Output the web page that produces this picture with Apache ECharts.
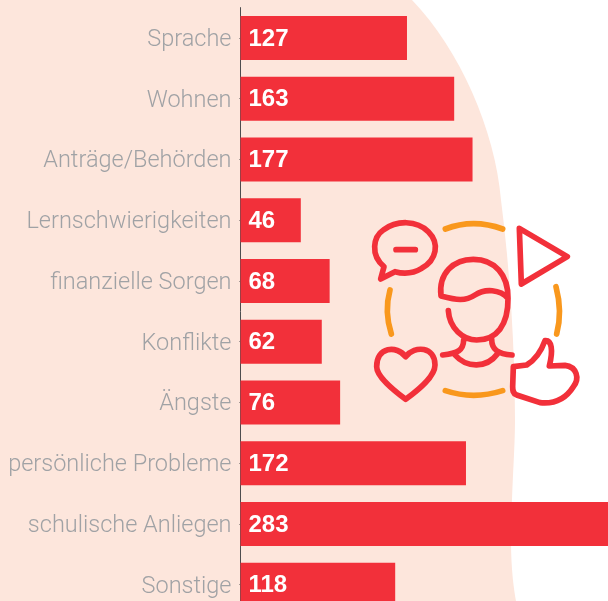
<!DOCTYPE html>
<html>
<head>
<meta charset="utf-8">
<style>
  html, body { margin: 0; padding: 0; background: #fff; overflow: hidden; }
  /* taller and wider than the window: the last bars run off the edge in the original */
  #chart { width: 640px; height: 640px; }
</style>
<script src="https://cdn.jsdelivr.net/npm/echarts@6/dist/echarts.min.js"></script>
</head>
<body>
<div id="chart"></div>
<script>
const categories = ['Sprache', 'Wohnen', 'Anträge/Behörden', 'Lernschwierigkeiten', 'finanzielle Sorgen', 'Konflikte', 'Ängste', 'persönliche Probleme', 'schulische Anliegen', 'Sonstige'];
const values = [127, 163, 177, 46, 68, 62, 76, 172, 283, 118];

const RED = '#f2303a';
const ORANGE = '#f9981d';

// Icon outlines, drawn in a 3x space and scaled down in the group
const redIcons = [
  'M62 237 L72 200 C30 165 40 110 70 90 C110 60 170 60 205 95 C240 130 230 180 185 205 C160 220 130 222 105 215 Z',
  'M108 149 L166 149',
  'M478 85 L622 170 L484 252 Z',
  'M243 288 C235 220 280 178 340 178 C405 178 445 225 444 295 C420 268 375 265 345 285 C315 305 290 300 243 288 Z',
  'M265 332 C268 385 310 420 350 420 C410 420 445 375 444 295',
  'M311 420 C310 450 295 460 248 465',
  'M395 418 C395 450 415 462 456 465',
  'M285 465 C320 505 380 505 412 462',
  'M137 470 C110 435 50 440 50 500 C50 530 100 570 137 598 C175 570 225 530 225 495 C225 440 165 435 137 470 Z',
  'M460 500 L500 495 C525 480 545 450 555 422 C575 420 580 450 568 498 L615 496 C650 500 660 535 640 560 C615 600 580 612 540 608 L470 585 C458 580 458 570 458 560 Z'
];
const orangeIcons = [
  'M256 87 Q340 55 428 87',
  'M256 572 Q340 600 428 572',
  'M90 270 Q72 335 94 402',
  'M588 260 Q608 335 590 402'
];
const backdrop = 'M0 0 L412 0 C460 50 495 130 501 200 C510 270 515 350 515 420 C515 450 512 480 511 540 C511 570 514 590 516 601 L0 601 Z';

// graphic component has no plain path type, so register them as shapes
echarts.graphic.registerShape('backdropShape', echarts.graphic.extendPath(backdrop));
echarts.graphic.registerShape('redIconShape', echarts.graphic.extendPath(redIcons.join(' ')));
echarts.graphic.registerShape('orangeIconShape', echarts.graphic.extendPath(orangeIcons.join(' ')));

function iconPath(type, color) {
  return {
    type: type,
    shape: {},
    style: { fill: 'none', stroke: color, lineWidth: 17, lineCap: 'round', lineJoin: 'round' },
    silent: true
  };
}

const chart = echarts.init(document.getElementById('chart'), null, { renderer: 'canvas' });

chart.setOption({
  animation: false,
  backgroundColor: '#fff',
  grid: { left: 240.5, top: 7.6, width: 371, height: 607.5 },
  xAxis: { type: 'value', min: 0, max: 283, show: false },
  yAxis: {
    type: 'category',
    inverse: true,
    data: categories,
    axisLine: { show: true, lineStyle: { color: '#4d4d4f', width: 1 } },
    axisTick: { show: true, alignWithLabel: true, length: 1, lineStyle: { color: '#4d4d4f' } },
    axisLabel: {
      margin: 9,
      // top-anchored short line box pushes the text about 2px below the tick
      verticalAlign: 'top',
      lineHeight: 4,
      color: '#a0a2a5',
      fontFamily: 'Roboto',
      fontWeight: 300,
      fontSize: 23.5
    }
  },
  series: [{
    type: 'bar',
    data: values,
    barWidth: 44,
    itemStyle: { color: RED },
    label: {
      show: true,
      position: 'insideLeft',
      distance: 8,
      offset: [0, 1],
      color: '#fff',
      fontFamily: 'Liberation Sans',
      fontWeight: 'bold',
      fontSize: 24
    }
  }],
  graphic: [
    {
      type: 'backdropShape',
      z: -1,
      silent: true,
      shape: {},
      style: { fill: '#fde6dc' }
    },
    {
      type: 'group',
      x: 360,
      y: 200,
      scaleX: 1 / 3,
      scaleY: 1 / 3,
      z: 10,
      children: [iconPath('orangeIconShape', ORANGE), iconPath('redIconShape', RED)]
    }
  ]
});
</script>
</body>
</html>
